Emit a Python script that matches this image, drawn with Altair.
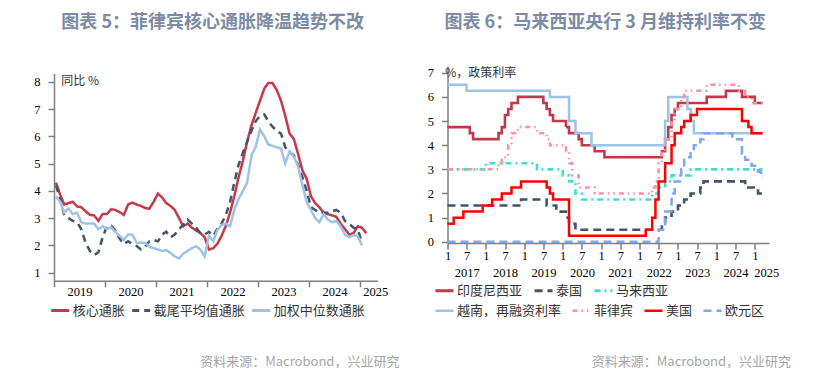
import altair as alt
import pandas as pd

# ---------------- text ----------------
TITLE_L = "图表 5：菲律宾核心通胀降温趋势不改"
TITLE_R = "图表 6：马来西亚央行 3 月维持利率不变"
SOURCE = "资料来源：Macrobond，兴业研究"
Y_TITLE_L = "同比  %"
Y_TITLE_R = "%，政策利率"

# ---------------- left panel data (monthly, from Jan 2019) ----------------
left_names = ["核心通胀", "截尾平均值通胀", "加权中位数通胀"]
left_first_month = "2019-01-15"
core = [4.3, 3.85, 3.5, 3.55, 3.6, 3.43, 3.4, 3.25, 3.12, 3.1, 2.9, 3.15,
        3.15, 3.33, 3.3, 3.22, 3.12, 3.5, 3.57, 3.5, 3.45, 3.37, 3.35, 3.6,
        3.9, 3.75, 3.55, 3.45, 3.3, 3.0, 2.7, 2.8, 2.65, 2.55, 2.45, 2.3,
        1.85, 1.9, 2.05, 2.35, 2.7, 3.2, 3.8, 4.5, 5.1, 5.8, 6.4, 6.85,
        7.3, 7.75, 7.95, 7.95, 7.7, 7.3, 6.75, 6.1, 5.9, 5.35, 4.75, 4.45,
        3.8, 3.55, 3.4, 3.2, 3.15, 3.1, 3.05, 2.8, 2.6, 2.4, 2.45, 2.7,
        2.65, 2.45]
trimmed = [4.2, 3.7, 3.1, 3.0, 2.9, 2.85, 2.6, 2.1, 1.8, 1.65, 1.75, 2.3,
           2.7, 2.72, 2.55, 2.25, 2.05, 2.15, 2.05, 1.98, 1.85, 1.95, 2.15, 2.2,
           2.15, 2.4, 2.5, 2.3, 2.4, 2.6, 2.75, 2.95, 2.8, 2.65, 2.45, 2.4,
           2.5, 2.35, 2.6, 2.8, 3.1, 3.6, 4.3, 4.95, 5.4, 5.8, 6.2, 6.55,
           6.75, 6.8, 6.55, 6.35, 6.2, 6.1, 5.6, 5.4, 5.3, 4.95, 4.5, 4.0,
           3.4, 3.3, 3.2, 3.2, 3.2, 3.25, 3.3, 3.2, 2.9, 2.8, 2.65, 2.6,
           2.1]
median = [3.8, 3.6, 3.2, 3.35, 3.15, 3.2, 2.85, 2.8, 2.8, 2.8, 2.6, 2.7,
          2.6, 2.65, 2.5, 2.35, 2.2, 2.4, 2.4, 2.1, 2.1, 2.1, 1.95, 1.9,
          1.85, 1.8, 1.83, 1.72, 1.6, 1.52, 1.7, 1.8, 1.9, 1.97, 1.85, 1.6,
          2.35, 2.15, 2.55, 2.75, 2.8, 2.7, 3.3, 3.7, 4.0, 4.3, 5.3, 5.6,
          6.25, 6.0, 5.7, 5.65, 5.6, 5.55, 5.0, 5.45, 5.25, 4.9, 4.2, 3.6,
          3.3, 3.0, 2.85, 3.15, 2.95, 2.85, 2.9, 2.7, 2.4, 2.3, 2.38, 2.35,
          2.0]
left_colors = ["#c8384b", "#44546a", "#9dc3e6"]
left_dashes = [[1, 0], [7, 5], [1, 0]]
left_year_ticks = [2019, 2020, 2021, 2022, 2023, 2024, 2025]
left_year_labels = [2019.5, 2020.5, 2021.5, 2022.5, 2023.5, 2024.5, 2025.3]
left_y_ticks = [1, 2, 3, 4, 5, 6, 7, 8]

# ---------------- right panel data (policy rates, change points) ----------------
names_a = ["印度尼西亚", "泰国", "马来西亚"]
names_b = ["越南，再融资利率", "菲律宾", "美国", "欧元区"]
indonesia = [("2017-01", 4.75), ("2017-08", 4.5), ("2017-09", 4.25), ("2018-05", 4.5),
             ("2018-06", 4.75), ("2018-07", 5.25), ("2018-08", 5.5), ("2018-09", 5.75),
             ("2018-11", 6.0), ("2019-07", 5.75), ("2019-08", 5.5), ("2019-09", 5.25),
             ("2019-10", 5.0), ("2020-02", 4.75), ("2020-03", 4.5), ("2020-06", 4.25),
             ("2020-07", 4.0), ("2020-11", 3.75), ("2021-02", 3.5), ("2022-08", 3.75),
             ("2022-09", 4.25), ("2022-10", 4.75), ("2022-11", 5.25), ("2022-12", 5.5),
             ("2023-01", 5.75), ("2023-10", 6.0), ("2024-04", 6.25), ("2024-09", 6.0),
             ("2025-01", 5.75)]
thailand = [("2017-01", 1.5), ("2018-12", 1.75), ("2019-08", 1.5), ("2019-11", 1.25),
            ("2020-02", 1.0), ("2020-03", 0.75), ("2020-05", 0.5), ("2022-08", 0.75),
            ("2022-09", 1.0), ("2022-11", 1.25), ("2023-01", 1.5), ("2023-03", 1.75),
            ("2023-05", 2.0), ("2023-08", 2.25), ("2023-09", 2.5), ("2024-10", 2.25),
            ("2025-02", 2.0)]
malaysia = [("2017-01", 3.0), ("2018-01", 3.25), ("2019-05", 3.0), ("2020-01", 2.75),
            ("2020-03", 2.5), ("2020-05", 2.0), ("2020-07", 1.75), ("2022-05", 2.0),
            ("2022-07", 2.25), ("2022-09", 2.5), ("2022-11", 2.75), ("2023-05", 3.0)]
vietnam = [("2017-01", 6.5), ("2017-07", 6.25), ("2019-09", 6.0), ("2020-03", 5.0),
           ("2020-05", 4.5), ("2020-10", 4.0), ("2022-09", 5.0), ("2022-10", 6.0),
           ("2023-04", 5.5), ("2023-05", 5.0), ("2023-06", 4.5)]
philippines = [("2017-01", 3.0), ("2018-05", 3.25), ("2018-06", 3.5), ("2018-08", 4.0),
               ("2018-09", 4.5), ("2018-11", 4.75), ("2019-05", 4.5), ("2019-08", 4.25),
               ("2019-09", 4.0), ("2020-02", 3.75), ("2020-03", 3.25), ("2020-04", 2.75),
               ("2020-06", 2.25), ("2020-11", 2.0), ("2022-05", 2.25), ("2022-06", 2.5),
               ("2022-07", 3.25), ("2022-08", 3.75), ("2022-09", 4.25), ("2022-11", 5.0),
               ("2022-12", 5.5), ("2023-02", 6.0), ("2023-03", 6.25), ("2023-10", 6.5),
               ("2024-08", 6.25), ("2024-10", 6.0), ("2024-12", 5.75)]
usa = [("2017-01", 0.75), ("2017-03", 1.0), ("2017-06", 1.25), ("2017-12", 1.5),
       ("2018-03", 1.75), ("2018-06", 2.0), ("2018-09", 2.25), ("2018-12", 2.5),
       ("2019-08", 2.25), ("2019-09", 2.0), ("2019-10", 1.75), ("2020-03", 0.25),
       ("2022-03", 0.5), ("2022-05", 1.0), ("2022-06", 1.75), ("2022-07", 2.5),
       ("2022-09", 3.25), ("2022-11", 4.0), ("2022-12", 4.5), ("2023-02", 4.75),
       ("2023-03", 5.0), ("2023-05", 5.25), ("2023-07", 5.5), ("2024-09", 5.0),
       ("2024-11", 4.75), ("2024-12", 4.5)]
euro = [("2017-01", 0.0), ("2022-07", 0.5), ("2022-09", 1.25), ("2022-11", 2.0),
        ("2022-12", 2.5), ("2023-02", 3.0), ("2023-03", 3.5), ("2023-05", 3.75),
        ("2023-06", 4.0), ("2023-08", 4.25), ("2023-09", 4.5), ("2024-06", 4.25),
        ("2024-09", 3.65), ("2024-10", 3.4), ("2024-12", 3.15), ("2025-02", 2.9),
        ("2025-03", 2.65)]
right_end = "2025-03-15"
colors_a = ["#c0394d", "#44546a", "#40e0d0"]
dashes_a = [[1, 0], [8, 5], [6, 4, 2, 4]]
colors_b = ["#9dc3e6", "#ff8fa3", "#ff0000", "#7fa6ee"]
dashes_b = [[1, 0], [5, 4, 1.5, 4, 1.5, 4], [1, 0], [8, 5]]
widths_b = [2.5, 2.5, 3.2, 2.5]
right_tick_values = [2017 + k * 0.5 for k in range(17)]
right_year_labels = [2017.5, 2018.5, 2019.5, 2020.5, 2021.5, 2022.5, 2023.5, 2024.5, 2025.3]
right_y_ticks = [0, 1, 2, 3, 4, 5, 6, 7]


def dec_year(s):
    ts = pd.Timestamp(s)
    start = pd.Timestamp(year=ts.year, month=1, day=1)
    end = pd.Timestamp(year=ts.year + 1, month=1, day=1)
    return ts.year + (ts - start) / (end - start)


rows = []
for name, vals in zip(left_names, [core, trimmed, median]):
    for i, v in enumerate(vals):
        ts = pd.Timestamp(left_first_month) + pd.DateOffset(months=i)
        rows.append({"x": dec_year(ts), "value": v, "series": name})
left_df = pd.DataFrame(rows)


def step_rows(name, pts):
    out = [{"x": dec_year(d + "-01"), "value": v, "series": name} for d, v in pts]
    out.append({"x": dec_year(right_end), "value": pts[-1][1], "series": name})
    return out


df_a = pd.DataFrame(sum([step_rows(n, p) for n, p in zip(names_a, [indonesia, thailand, malaysia])], []))
df_b = pd.DataFrame(sum([step_rows(n, p) for n, p in zip(names_b, [vietnam, philippines, usa, euro])], []))

# ---------------- styling ----------------
FONT_CJK = "Noto Sans CJK SC"
FONT_NUM = "Liberation Serif"
AX = "#7f7f7f"
TITLE_COLOR = "#7b8ba5"
LW, LH = 323.4, 214.7      # left plot group (its y axis starts 7.3 px below the top)
LY_TOP = 7.3
RW, RH = 321.5, 177


def make_legend(x, y, colpad):
    return alt.Legend(orient="none", direction="horizontal", legendX=x, legendY=y, title=None,
                      labelFont=FONT_CJK, labelFontSize=13, labelColor="#333333",
                      symbolSize=324, symbolStrokeWidth=3, labelOffset=2, columnPadding=colpad,
                      padding=0, labelLimit=300)


def y_axis(values, title, tx, ty):
    return alt.Axis(values=values, title=title, titleAngle=0, titleX=tx, titleY=ty, orient="left",
                    titleAlign="left", titleBaseline="middle", titleFont=FONT_CJK,
                    titleFontSize=12, titleFontWeight="normal", titleColor="#333333",
                    labelFont=FONT_NUM, labelFontSize=12.5, labelColor="#000000",
                    tickSize=6, labelPadding=8, grid=False, labelFlush=False, labelOverlap=False)


def label_axis(values, pad):
    return alt.Axis(values=values, labelExpr="'' + floor(datum.value)", ticks=False, tickSize=0,
                    orient="bottom", domain=False, labelPadding=pad, title=None, grid=False,
                    labelFlush=False, labelOverlap=False, labelFont=FONT_NUM, labelFontSize=12.5,
                    labelColor="#000000")


def title(text):
    return alt.TitleParams(text, font=FONT_CJK, fontSize=18, fontWeight="bold", color=TITLE_COLOR,
                           anchor="middle", offset=34, dx=-3)


# ---------------- left chart ----------------
lx = alt.Scale(domain=[2019, 2025.341], nice=False, zero=False)
ly = alt.Scale(domain=[0.707, 8.31], range=[LH, LY_TOP], nice=False, zero=False)
leg_l = make_legend(-4.3, 233.8, 0)
ly_axis = y_axis(left_y_ticks, Y_TITLE_L, 6.7, 14.7)

left_lines = alt.Chart(left_df).mark_line(strokeWidth=2.5).encode(
    x=alt.X("x:Q", scale=lx, axis=alt.Axis(values=left_year_ticks, labels=False, tickSize=6,
                                            orient="bottom", title=None, grid=False)),
    y=alt.Y("value:Q", scale=ly, axis=ly_axis),
    color=alt.Color("series:N", scale=alt.Scale(domain=left_names, range=left_colors), legend=leg_l),
    strokeDash=alt.StrokeDash("series:N", scale=alt.Scale(domain=left_names, range=left_dashes), legend=leg_l),
)
left_labels = alt.Chart(left_df).mark_point(opacity=0).encode(
    x=alt.X("x:Q", scale=lx, axis=label_axis(left_year_labels, 5)),
)
left_src = alt.Chart(pd.DataFrame({"t": [SOURCE]})).mark_text(
    align="right", baseline="middle", font=FONT_CJK, fontSize=13, color="#a6a6a6"
).encode(text="t:N", x=alt.value(LW + 22), y=alt.value(296))

left = alt.layer(left_lines, left_labels, left_src).resolve_axis(x="independent").properties(
    width=LW, height=LH, title=title(TITLE_L))

# ---------------- right chart ----------------
rx = alt.Scale(domain=[2017, 2025.37], nice=False, zero=False)
ry = alt.Scale(domain=[-0.05, 7.28], nice=False, zero=False)
leg_a = make_legend(-13.5, 214, 5)
leg_b = make_legend(-13.5, 234, 5)
month_axis = alt.Axis(values=right_tick_values, labelExpr="(datum.value % 1) < 0.25 ? '1' : '7'",
                      orient="bottom", tickSize=6, labelPadding=0, title=None, grid=False,
                      labelFlush=False, labelOverlap=False, labelFont=FONT_NUM, labelFontSize=12.5,
                      labelColor="#000000")
ry_axis = y_axis(right_y_ticks, Y_TITLE_R, -2.8, 6.7)

lines_a = alt.Chart(df_a).mark_line(interpolate="step-after", strokeWidth=2.6).encode(
    x=alt.X("x:Q", scale=rx, axis=month_axis),
    y=alt.Y("value:Q", scale=ry, axis=ry_axis),
    color=alt.Color("series:N", scale=alt.Scale(domain=names_a, range=colors_a), legend=leg_a),
    strokeDash=alt.StrokeDash("series:N", scale=alt.Scale(domain=names_a, range=dashes_a), legend=leg_a),
)
lines_b = alt.Chart(df_b).mark_line(interpolate="step-after").encode(
    x=alt.X("x:Q", scale=rx, axis=label_axis(right_year_labels, 23)),
    y=alt.Y("value:Q", scale=ry, axis=ry_axis),
    color=alt.Color("series:N", scale=alt.Scale(domain=names_b, range=colors_b), legend=leg_b),
    strokeDash=alt.StrokeDash("series:N", scale=alt.Scale(domain=names_b, range=dashes_b), legend=leg_b),
    strokeWidth=alt.StrokeWidth("series:N", scale=alt.Scale(domain=names_b, range=widths_b), legend=None),
)
right_src = alt.Chart(pd.DataFrame({"t": [SOURCE]})).mark_text(
    align="right", baseline="middle", font=FONT_CJK, fontSize=13, color="#a6a6a6"
).encode(text="t:N", x=alt.value(RW + 22), y=alt.value(296))

right = alt.layer(lines_a, lines_b, right_src).resolve_scale(
    color="independent", strokeDash="independent", strokeWidth="independent"
).resolve_axis(x="independent").properties(width=RW, height=RH, title=title(TITLE_R))

chart = alt.hconcat(left, right, spacing=26.5).resolve_scale(
    color="independent", strokeDash="independent", strokeWidth="independent"
).configure_view(strokeWidth=0).configure_axis(
    domainColor=AX, tickColor=AX, domainWidth=1.5, tickWidth=1.5
).properties(
    padding={"left": 33, "top": 14, "right": 5, "bottom": 5}, background="white"
)

chart.save("out.html", embed_options={"renderer": "svg", "actions": False})
